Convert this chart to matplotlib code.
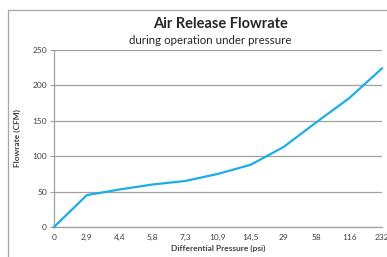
import matplotlib.pyplot as plt
from matplotlib.patches import Rectangle

# pressure categories (psi) and flow (CFM)
pressure = ["0", "2,9", "4,4", "5,8", "7,3", "10,9", "14,5", "29", "58", "116", "232"]
flowrate = [0, 45, 53, 60, 65, 75, 88, 113, 148, 182, 224]
yticks = [0, 50, 100, 150, 200, 250]

plt.rcParams['font.family'] = ['Lato', 'DejaVu Sans']

fig = plt.figure(figsize=(3.87, 2.57), dpi=100)
# outer chart frame, cut off at right and bottom like the screenshot
fig.patches.append(Rectangle((8 / 387, -0.1), 1.2, 1.0 - 10 / 257 + 0.1,
                             transform=fig.transFigure, fill=False,
                             edgecolor='#a6a6a6', linewidth=0.9))

ax = fig.add_axes([54 / 387, 30 / 257, 328 / 387, 177 / 257])
x = list(range(len(pressure)))
ax.plot(x, flowrate, color='#1aaee8', linewidth=1.6, clip_on=False, zorder=3)

ax.set_xlim(0, len(pressure) - 1)
ax.set_ylim(0, 250)
ax.set_xticks(x)
ax.set_xticklabels(pressure)
ax.set_yticks(yticks)
ax.yaxis.grid(True, color='#a0a0a0', linewidth=0.9)
ax.set_axisbelow(True)

for s in ['top', 'right']:
    ax.spines[s].set_visible(False)
for s in ['left', 'bottom']:
    ax.spines[s].set_color('#a0a0a0')
    ax.spines[s].set_linewidth(0.9)

ax.tick_params(axis='y', length=3, color='#a0a0a0', labelsize=6, labelcolor='#404040', pad=2)
ax.tick_params(axis='x', length=0, labelsize=6, labelcolor='#404040', pad=5)

ax.set_xlabel("Differential Pressure (psi)", fontsize=6, fontweight='bold', color='#404040', labelpad=3)
ax.set_ylabel("Flowrate (CFM)", fontsize=6, fontweight='bold', color='#404040', labelpad=8)

fig.text(221 / 387, 1 - 24 / 257, "Air Release Flowrate", ha='center', va='center',
         fontsize=10.5, fontweight='bold', color='#262626')
fig.text(210 / 387, 1 - 40 / 257, "during operation under pressure", ha='center', va='center',
         fontsize=8.3, color='#262626')

fig.savefig("out.png", dpi=100)
